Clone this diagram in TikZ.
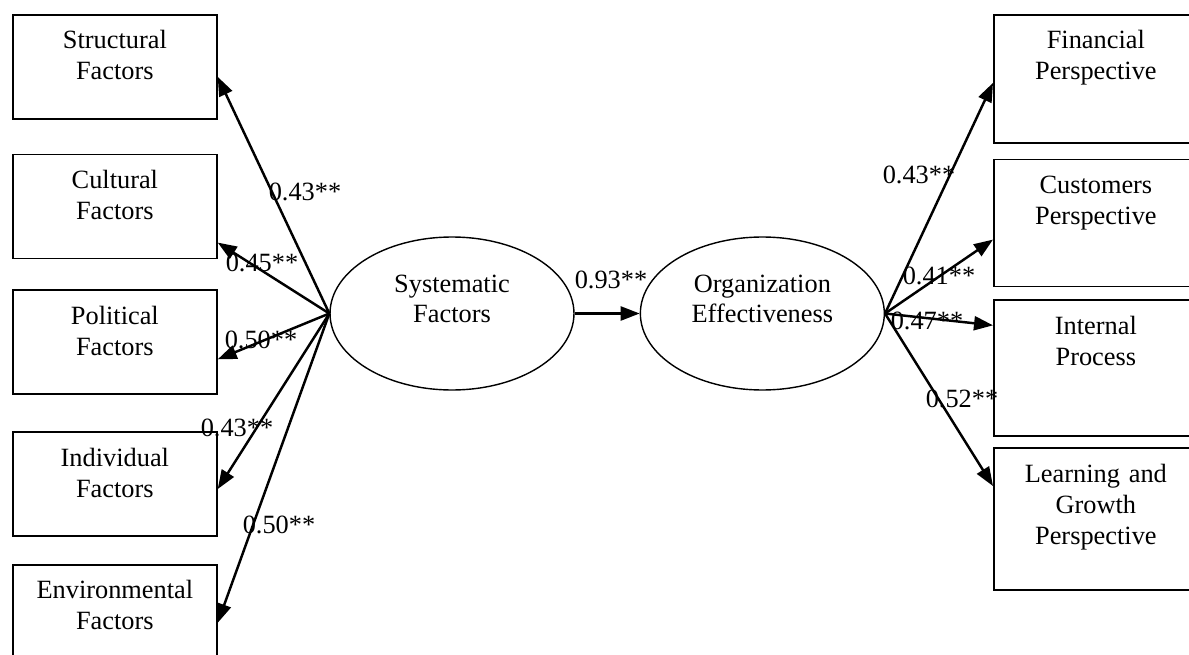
\documentclass[tikz,border=0pt]{standalone}
\usepackage{fontspec}
\setmainfont{Liberation Serif}
\usetikzlibrary{shapes.geometric, arrows.meta, positioning}
\tikzstyle{factor} = [rectangle, draw=black, line width=1pt, text width=3.88cm, inner xsep=0.1cm, inner ysep=0.2cm, text height=0.48cm, text depth=1.2cm, align=center]
\tikzstyle{latent} = [ellipse, draw=black, line width=0.8pt, minimum width=4.88cm, minimum height=3.06cm, text width=3.2cm, inner sep=0pt, text height=0.36cm, text depth=1.22cm, align=center]
\tikzstyle{coef} = [inner sep=0pt]
\tikzstyle{arrow} = [line width=1.4pt, -{Triangle[length=0.38cm, width=0.28cm]}]

\begin{document}
\begin{tikzpicture}[x=0.02cm, y=-0.02cm, font=\fontsize{15}{17.64}\selectfont]
    \clip (0,0) rectangle (1189,655);

    \node (sys) [latent] at (452,313.5) {Systematic\\Factors};
    \node (org) [latent, right=1.3cm of sys] {Organization\\Effectiveness};

    \node (struc) [factor, anchor=north west] at (12,14) {Structural\\Factors};
    \node (cult) [factor, below=0.68cm of struc] {Cultural\\Factors};
    \node (pol) [factor, below=0.6cm of cult] {Political\\Factors};
    \node (indiv) [factor, below=0.72cm of pol] {Individual\\Factors};
    \node (env) [factor, below=0.54cm of indiv] {Environmental\\Factors};

    \node (fin) [factor, anchor=north west, text depth=1.68cm] at (993,14) {Financial\\Perspective};
    \node (cust) [factor, below=0.3cm of fin, text depth=1.66cm] {Customers\\Perspective};
    \node (intp) [factor, below=0.24cm of cust, text depth=1.84cm] {Internal\\Process};
    \node (learn) [factor, below=0.2cm of intp, text depth=1.96cm] {Learning and\\Growth\\Perspective};

    \node (cstruc) [coef] at (305,192) {0.43**};
    \node (ccult) [coef] at (262,263) {0.45**};
    \node (cpol) [coef] at (261,340) {0.50**};
    \node (cindiv) [coef] at (237,428) {0.43**};
    \node (cenv) [coef] at (279,525) {0.50**};
    \node (cmid) [coef] at (611,280) {0.93**};
    \node (cfin) [coef] at (919,175) {0.43**};
    \node (ccust) [coef] at (939,276) {0.41**};
    \node (cintp) [coef] at (927,321) {0.47**};
    \node (clearn) [coef] at (962,399) {0.52**};

    \draw [arrow] (sys.west) -- ([yshift=-0.2cm]struc.east);
    \draw [arrow] (sys.west) -- ([yshift=-0.72cm]cult.east);
    \draw [arrow] (sys.west) -- ([yshift=-0.34cm]pol.east);
    \draw [arrow] (sys.west) -- ([yshift=-0.1cm]indiv.east);
    \draw [arrow] (sys.west) -- ([yshift=-0.12cm]env.east);
    \draw [arrow] (sys) -- (org);
    \draw [arrow] (org.east) -- ([yshift=-0.08cm]fin.west);
    \draw [arrow] (org.east) -- ([yshift=-0.33cm]cust.west);
    \draw [arrow] (org.east) -- ([yshift=0.86cm]intp.west);
    \draw [arrow] (org.east) -- ([yshift=0.66cm]learn.west);
\end{tikzpicture}
\end{document}
